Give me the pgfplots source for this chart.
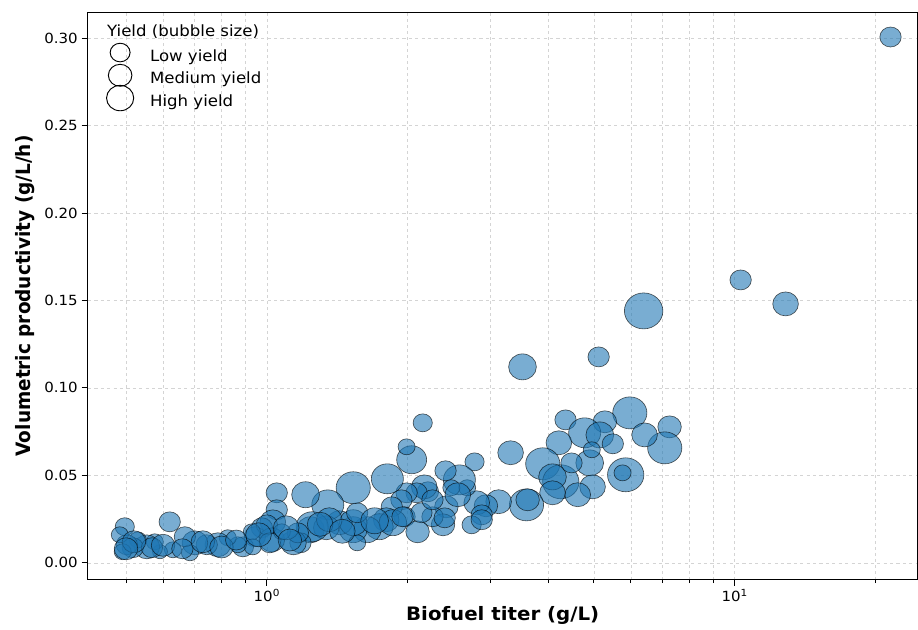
\documentclass[border=0pt]{standalone}
\usepackage{pgfplots}
\pgfplotsset{compat=1.18}
\usepackage{pgfplotstable}
\usepackage{graphicx}
\usepackage{fontspec}
\setmainfont{DejaVu Sans}
\definecolor{bubble}{HTML}{1F77B4}
\definecolor{gridc}{HTML}{D4D4D4}

\pgfplotstableread{
x y r
21.54 0.3006 10
10.30 0.1617 10
12.85 0.1480 12
6.39 0.1440 18
5.12 0.1177 10
3.52 0.1120 13
2.154 0.0800 9
5.97 0.0857 16
7.26 0.0777 11
7.09 0.0657 16
6.42 0.0731 12
4.35 0.0817 10
5.28 0.0806 11
4.78 0.0743 15
5.15 0.0731 13
5.49 0.0680 10
4.21 0.0686 12
3.32 0.0629 12
3.89 0.0566 16
4.25 0.0463 17
4.90 0.0571 13
4.48 0.0571 10
4.97 0.0434 12
4.62 0.0389 12
4.08 0.0491 13
4.08 0.0400 12
4.95 0.0646 8
5.85 0.0503 17
5.76 0.0514 8
3.59 0.0331 16
3.61 0.0360 11
3.13 0.0349 12
2.94 0.0326 11
2.81 0.0343 12
2.88 0.0274 10
2.74 0.0217 9
2.68 0.0429 8
2.78 0.0577 9
2.58 0.0474 15
2.41 0.0526 10
2.48 0.0429 8
2.42 0.0320 11
2.38 0.0217 11
2.26 0.0263 10
2.21 0.0406 10
2.17 0.0434 12
2.09 0.0400 10
1.99 0.0400 10
1.94 0.0360 10
1.97 0.0263 10
2.10 0.0177 11
2.14 0.0286 10
2.04 0.0589 14
1.99 0.0663 8
1.81 0.0480 15
1.85 0.0320 10
1.80 0.0246 12
1.74 0.0206 13
1.64 0.0189 13
1.53 0.0189 13
1.56 0.0114 8
1.43 0.0229 12
1.53 0.0229 13
1.56 0.0286 10
1.53 0.0429 16
1.35 0.0331 15
1.24 0.0189 13
1.34 0.0200 12
1.25 0.0206 15
1.21 0.0389 13
1.18 0.0114 10
1.14 0.0114 12
1.05 0.0400 10
1.05 0.0303 10
1.03 0.0234 12
0.976 0.0200 10
0.943 0.0149 10
1.025 0.0131 12
1.00 0.0217 10
1.165 0.0171 10
1.077 0.0177 8
1.015 0.0114 10
0.889 0.0091 10
0.929 0.0177 8
0.933 0.0091 8
0.867 0.0103 8
0.825 0.0143 8
0.786 0.0103 12
0.744 0.0103 10
0.702 0.0114 12
0.685 0.0057 8
0.668 0.0149 10
0.630 0.0074 8
0.620 0.0234 10
0.591 0.0063 7
0.576 0.0120 8
0.554 0.0091 12
0.530 0.0131 8
0.517 0.0086 10
0.502 0.0103 10
0.497 0.0206 9
0.485 0.0160 8
0.492 0.0063 8
0.568 0.0086 10
2.26 0.0360 10
2.56 0.0389 12
2.40 0.0257 10
2.88 0.0246 10
1.36 0.0246 12
1.86 0.0229 13
1.95 0.0263 10
0.52 0.0120 11
0.60 0.0100 11
0.66 0.0080 10
0.73 0.0120 11
0.80 0.0090 11
0.86 0.0130 10
0.96 0.0160 12
1.10 0.0200 12
1.12 0.0130 11
0.50 0.0080 11
1.30 0.0220 12
1.45 0.0180 12
1.70 0.0240 13
}\data

\begin{document}
\scalebox{1.07}[1]{%
\begin{tikzpicture}
\begin{axis}[
  scale only axis,
  width=775.7pt, height=568pt,
  xmode=log,
  xmin=0.4145, xmax=24.6,
  ymin=-0.0097, ymax=0.3149,
  axis line style={line width=0.9pt},
  tick align=outside, tick pos=left,
  major tick length=6pt, minor tick length=3.5pt,
  every tick/.style={black, line width=0.8pt},
  xtick={1,10},
  xticklabels={10\textsuperscript{0},10\textsuperscript{1}},
  minor xtick={0.5,0.6,0.7,0.8,0.9,2,3,4,5,6,7,8,9,20},
  ytick={0,0.05,0.10,0.15,0.20,0.25,0.30},
  yticklabel style={/pgf/number format/.cd, fixed, fixed zerofill, precision=2},
  /pgf/number format/assume math mode=true,
  tick label style={font=\fontsize{14}{17}\selectfont},
  grid=both,
  major grid style={gridc, dashed, line width=0.5pt},
  minor grid style={gridc, dashed, line width=0.5pt},
  xlabel={\bfseries Biofuel titer (g/L)},
  ylabel={\bfseries Volumetric productivity (g/L/h)},
  label style={font=\fontsize{18.5}{22}\selectfont},
  xlabel style={yshift=2pt},
  ylabel style={yshift=2pt},
  legend style={at={(axis description cs:0.0257,0.9415)}, anchor=north west,
    draw=none, fill=none, font=\fontsize{15.5}{18}\selectfont,
    row sep=5.5pt, inner sep=2pt},
  legend cell align=left,
]
\addplot[scatter, only marks, mark=*, forget plot,
  scatter/use mapped color={draw=black, draw opacity=0.65, fill=bubble, fill opacity=0.6},
  visualization depends on={\thisrow{r} \as \rad},
  scatter/@pre marker code/.append style={/tikz/mark size=1.0*\rad},
  line width=0.6pt]
  table[x=x, y=y, meta=r] {\data};

\addlegendimage{legend image code/.code={\path[draw=none,fill=none] (0pt,-3pt) rectangle (34pt,8pt); \draw[overlay, black, fill=none, line width=0.9pt] (8pt,0.35em) circle (9.3pt);}}
\addlegendentry{Low yield}
\addlegendimage{legend image code/.code={\path[draw=none,fill=none] (0pt,-3pt) rectangle (34pt,8pt); \draw[overlay, black, fill=none, line width=0.9pt] (8pt,0.35em) circle (11pt);}}
\addlegendentry{Medium yield}
\addlegendimage{legend image code/.code={\path[draw=none,fill=none] (0pt,-3pt) rectangle (34pt,8pt); \draw[overlay, black, fill=none, line width=0.9pt] (8pt,0.35em) circle (12.7pt);}}
\addlegendentry{High yield}

\node[anchor=base west, inner sep=0pt, font=\fontsize{15.5}{18}\selectfont] at (rel axis cs:0.0229,0.956) {Yield (bubble size)};
\end{axis}
\path ([xshift=-82.2pt,yshift=-50pt]current axis.south west) rectangle ([yshift=12pt]current axis.north east);
\end{tikzpicture}%
}
\end{document}
